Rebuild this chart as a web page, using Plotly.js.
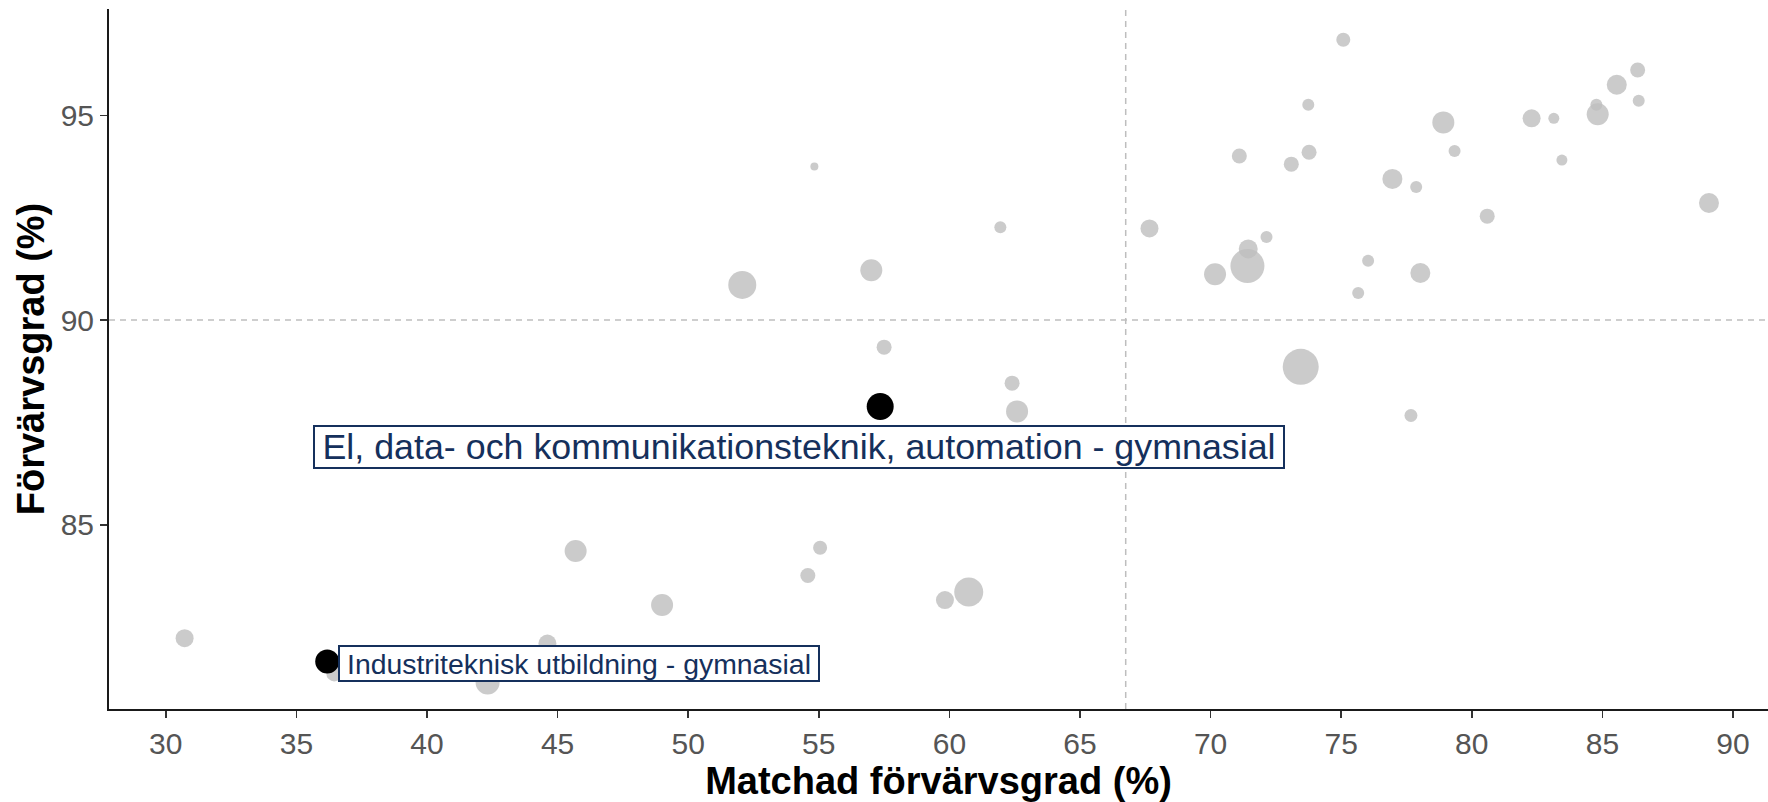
<!DOCTYPE html>
<html>
<head>
<meta charset="utf-8">
<script src="https://cdn.plot.ly/plotly-3.0.1.min.js"></script>
<style>html,body{margin:0;padding:0;background:#fff;}#chart{width:1768px;height:802px;}</style>
</head>
<body>
<div id="chart"></div>
<script>
// Other programmes (grey)
const otherX = [75.08, 86.35, 85.55, 86.39, 84.77, 84.82, 82.29, 83.14, 78.91, 73.74,
                71.10, 73.77, 73.09, 79.34, 83.45, 76.96, 77.87, 89.08, 80.59, 67.66,
                72.14, 71.44, 71.41, 70.17, 76.03, 78.03, 75.65, 73.45, 77.67, 54.83,
                61.95, 52.07, 57.01, 57.50, 62.40, 62.59, 45.69, 55.05, 54.58, 49.00,
                30.72, 44.61, 36.45, 42.32, 59.83, 60.74];
const otherY = [96.85, 96.11, 95.75, 95.36, 95.26, 95.03, 94.93, 94.93, 94.83, 95.26,
                94.01, 94.10, 93.81, 94.13, 93.91, 93.45, 93.25, 92.86, 92.54, 92.24,
                92.03, 91.74, 91.32, 91.12, 91.45, 91.15, 90.66, 88.86, 87.67, 93.75,
                92.27, 90.86, 91.22, 89.34, 88.46, 87.77, 84.36, 84.44, 83.76, 83.04,
                82.23, 82.10, 81.37, 81.15, 83.16, 83.36];
const otherSize = [14, 15, 20, 12, 12, 22, 18, 11, 22, 12,
                   15, 15, 15, 12, 11, 20, 12, 20, 15, 18,
                   12, 19, 34, 22, 12, 20, 12, 36, 13, 8,
                   12, 28, 22, 15, 15, 22, 22, 14, 15, 22,
                   18, 18, 16, 24, 18, 29];

// Highlighted programmes (black)
const highlightLabels = ["El, data- och kommunikationsteknik, automation - gymnasial",
                         "Industriteknisk utbildning - gymnasial"];
const highlightX = [57.35, 36.18];
const highlightY = [87.89, 81.66];
const highlightSize = [27, 24];

// Reference lines (averages)
const refX = 66.75;
const refY = 90;

// Axis ticks
const xTicks = [30, 35, 40, 45, 50, 55, 60, 65, 70, 75, 80, 85, 90];
const yTicks = [85, 90, 95];

const FONT = "Liberation Sans, Arial, sans-serif";
const labelColor = "#15305C";

const traces = [
  {
    type: "scatter", mode: "markers",
    x: otherX, y: otherY,
    marker: {size: otherSize, color: "rgba(190,190,190,0.8)", opacity: 1, line: {width: 0}},
    hoverinfo: "x+y", showlegend: false
  },
  {
    type: "scatter", mode: "markers",
    x: highlightX, y: highlightY, text: highlightLabels,
    marker: {size: highlightSize, color: "#000000", opacity: 1, line: {width: 0}},
    hoverinfo: "text+x+y", showlegend: false
  }
];

const layout = {
  width: 1768, height: 802,
  margin: {l: 109, r: 0, t: 9, b: 93, pad: 0},
  paper_bgcolor: "#ffffff", plot_bgcolor: "#ffffff",
  font: {family: FONT},
  showlegend: false,
  xaxis: {
    range: [27.825, 91.34],
    tickvals: xTicks, ticktext: xTicks.map(String),
    showgrid: false, zeroline: false,
    showline: true, linecolor: "#1a1a1a", linewidth: 2,
    ticks: "outside", ticklen: 7, tickwidth: 1.5, tickcolor: "#333",
    tickfont: {family: FONT, size: 30, color: "#555555"},
    title: {text: "<b>Matchad förvärvsgrad (%)</b>", font: {family: FONT, size: 38, color: "#000"}, standoff: 6},
    automargin: false
  },
  yaxis: {
    range: [80.50, 97.60],
    tickvals: yTicks, ticktext: yTicks.map(String),
    showgrid: false, zeroline: false,
    showline: true, linecolor: "#1a1a1a", linewidth: 2,
    ticks: "outside", ticklen: 7, tickwidth: 1.5, tickcolor: "#333",
    tickfont: {family: FONT, size: 30, color: "#555555"},
    title: {text: "<b>Förvärvsgrad (%)</b>", font: {family: FONT, size: 38, color: "#000"}, standoff: 4},
    automargin: false
  },
  shapes: [
    {type: "line", layer: "below", xref: "x", yref: "paper", x0: refX, x1: refX, y0: 0, y1: 1,
     line: {color: "#BEBEBE", width: 1.5, dash: "6px,5px"}},
    {type: "line", layer: "below", xref: "paper", yref: "y", x0: 0, x1: 1, y0: refY, y1: refY,
     line: {color: "#BEBEBE", width: 1.5, dash: "6px,5px"}}
  ],
  annotations: [
    {x: 54.24, y: 86.91, xref: "x", yref: "y", showarrow: false,
     text: highlightLabels[0], font: {family: FONT, size: 35.8, color: labelColor},
     bgcolor: "#ffffff", bordercolor: labelColor, borderwidth: 2, borderpad: 0,
     width: 968, height: 40, xanchor: "center", yanchor: "middle", align: "center"},
    {x: 45.82, y: 81.62, xref: "x", yref: "y", showarrow: false,
     text: highlightLabels[1], font: {family: FONT, size: 28.4, color: labelColor},
     bgcolor: "#ffffff", bordercolor: labelColor, borderwidth: 2, borderpad: 0,
     width: 478, height: 33, xanchor: "center", yanchor: "middle", align: "center"}
  ]
};

Plotly.newPlot("chart", traces, layout, {displayModeBar: false, staticPlot: true});
</script>
</body>
</html>
